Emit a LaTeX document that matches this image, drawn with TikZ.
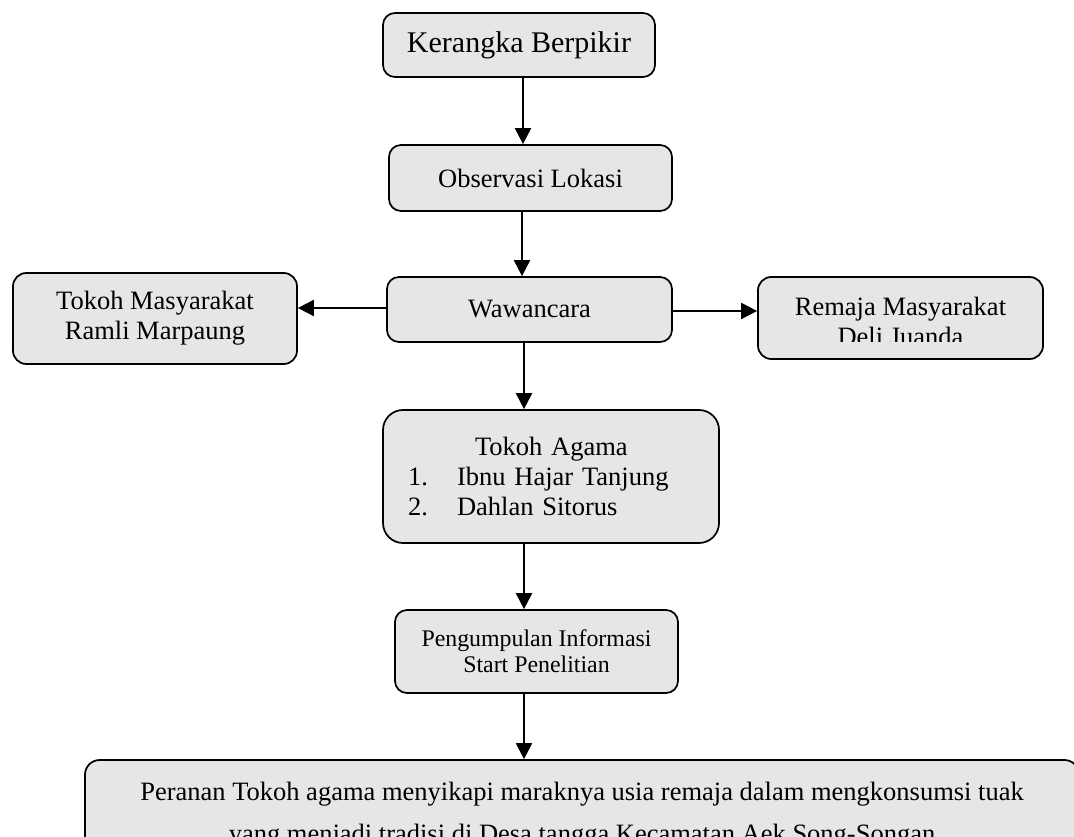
\documentclass[tikz,border=0pt]{standalone}
\usepackage{fontspec}
\setmainfont{Liberation Serif}
\usetikzlibrary{arrows.meta}
\definecolor{boxgray}{RGB}{230,230,230}
\begin{document}
\begin{tikzpicture}[x=0.75pt,y=-0.75pt,
  box/.style={draw=black, line width=1.3pt, fill=boxgray, rounded corners=9pt,
    inner sep=0pt, align=center, font=\fontsize{19.875}{22.5}\selectfont},
  txt/.style={inner sep=0pt, align=center, font=\fontsize{19.875}{22.5}\selectfont},
  arr/.style={line width=1.5pt, -{Triangle[length=12pt,width=12pt]}},
]
\useasboundingbox (0,0) rectangle (1074,837);
\begin{scope}
\clip (0,0) rectangle (1074,837);

% boxes
\node[box, minimum width=204pt, minimum height=48pt, font=\fontsize{22.5}{26}\selectfont]
  (kb) at (519,45) {Kerangka Berpikir};
\node[box, minimum width=212.25pt, minimum height=49.5pt] (ob) at (530.5,178) {Observasi Lokasi};
\node[box, minimum width=213.75pt, minimum height=48.75pt] (ww) at (529.5,309.5) {Wawancara};
\node[box, minimum width=213pt, minimum height=68.25pt, rounded corners=10pt]
  (tm) at (155,318.5) {Tokoh Masyarakat\\Ramli Marpaung};
\node[box, minimum width=213.75pt, minimum height=61.5pt, rounded corners=10pt]
  (rm) at (900.5,318) {};
\node[box, text width=214.5pt, inner xsep=18.75pt, minimum height=99.75pt, align=left,
  rounded corners=15pt] (ta) at (551,476.5)
  {\hspace*{50.25pt}Tokoh Agama\\\makebox[36.75pt][l]{1.}Ibnu Hajar Tanjung\\\makebox[36.75pt][l]{2.}Dahlan Sitorus};
\node[box, minimum width=212.25pt, minimum height=62.25pt, font=\fontsize{17.9}{19.5}\selectfont]
  (pg) at (536.5,651.5) {Pengumpulan Informasi\\Start Penelitian};
\node[box, minimum width=745.5pt, minimum height=82.5pt, rounded corners=11pt,
  font=\fontsize{19.875}{31.5}\selectfont] (pr) at (582,815)
  {Peranan Tokoh agama menyikapi maraknya usia remaja dalam mengkonsumsi tuak\\yang menjadi tradisi di Desa tangga Kecamatan Aek Song-Songan};

% clipped text of the Remaja box
\begin{scope}
  \clip (758,277) rectangle (1043,342);
  \node[txt] (rmt) at (900.5,321) {Remaja Masyarakat\\Deli Juanda};
\end{scope}

% connector guides
\coordinate (v1) at (523,0);
\coordinate (v2) at (522,0);
\coordinate (v3) at (524,0);
\coordinate (h1) at (0,308);
\coordinate (h2) at (0,311);

% connectors
\draw[arr] (kb.south -| v1) -- (ob.north -| v1);
\draw[arr] (ob.south -| v2) -- (ww.north -| v2);
\draw[arr] (ww.west |- h1) -- (tm.east |- h1);
\draw[arr] (ww.east |- h2) -- (rm.west |- h2);
\draw[arr] (ww.south -| v3) -- (ta.north -| v3);
\draw[arr] (ta.south -| v3) -- (pg.north -| v3);
\draw[arr] (pg.south -| v3) -- (pr.north -| v3);
\end{scope}
\end{tikzpicture}
\end{document}
